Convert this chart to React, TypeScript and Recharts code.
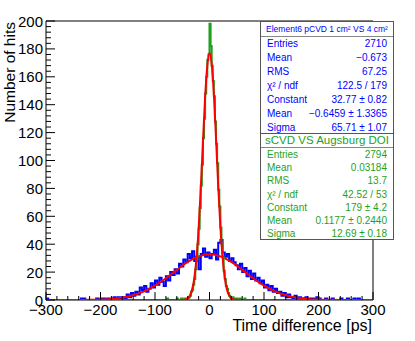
import React from "react";
import { ComposedChart, Line, XAxis, YAxis, ReferenceArea } from "recharts";

const W = 415;
const H = 341;
const FONT = '"Liberation Sans", Arial, Helvetica, sans-serif';
const BLUE = "#0000ff";
const GREEN = "#1f9f1f";
const RED = "#ff0000";

// pCVD histogram, 4 ps bins starting at -300 ps
const BLUE_START = -300;
const BLUE_BIN = 4;
const BLUE_COUNTS = [
  1, 0, 0, 0, 0, 0, 0, 0, 0, 0,
  0, 0, 0, 0, 0, 0, 1, 1, 0, 0,
  0, 0, 0, 1, 0, 1, 1, 0, 1, 0,
  1, 2, 1, 2, 1, 2, 1, 4, 2, 5,
  3, 6, 4, 9, 7, 10, 6, 8, 12, 9,
  14, 11, 16, 13, 10, 17, 14, 20, 18, 22,
  19, 26, 24, 29, 27, 33, 30, 35, 28, 31,
  22, 33, 37, 31, 34, 30, 33, 36, 29, 41,
  43, 34, 31, 33, 28, 30, 27, 25, 22, 26,
  20, 23, 17, 21, 15, 19, 14, 16, 12, 14,
  9, 11, 7, 10, 6, 8, 5, 6, 3, 5,
  2, 4, 2, 1, 3, 1, 2, 1, 1, 2,
  0, 1, 1, 0, 2, 1, 0, 0, 1, 0,
  0, 1, 0, 0, 0, 1, 0, 0, 1, 0,
  0, 1, 0, 1, 0, 0, 0, 0, 0, 0,
];

// sCVD histogram, 2 ps bins starting at -80 ps
const GREEN_START = -80;
const GREEN_BIN = 2;
const GREEN_COUNTS = [
  0, 1, 0, 0, 0, 0, 0, 0, 0, 0,
  1, 0, 0, 0, 1, 0, 0, 1, 0, 1,
  1, 2, 3, 6, 7, 11, 15, 22, 29, 40,
  51, 66, 82, 97, 116, 130, 148, 160, 172, 176,
  198, 182, 168, 157, 146, 128, 112, 98, 79, 67,
  52, 40, 31, 21, 15, 10, 8, 5, 3, 2,
  1, 2, 0, 1, 0, 1, 0, 0, 1, 0,
  0, 0, 1, 0, 0, 0, 0, 0, 0, 0,
];

// fitted curves
const BLUE_FIT_X = [-300, -280, -260, -240, -220, -200, -180, -160, -140, -120, -100, -80, -60, -40, -20, 0, 20, 40, 60, 80, 100, 120, 140, 160, 180, 200, 220, 240, 260, 280, 300];
const BLUE_FIT_Y = [0, 0, 0, 0, 0.1, 0.3, 0.8, 1.7, 3.4, 6.2, 10.3, 15.6, 21.6, 27.3, 31.3, 32.8, 31.3, 27.3, 21.6, 15.6, 10.3, 6.2, 3.4, 1.7, 0.8, 0.3, 0.1, 0, 0, 0, 0];

const GREEN_FIT_X = [-300, -60, -48, -44, -40, -36, -32, -28, -24, -20, -16, -12, -8, -4, 0, 4, 8, 12, 16, 20, 24, 28, 32, 36, 40, 44, 48, 60, 300];
const GREEN_FIT_Y = [0, 0, 0.1, 0.4, 1.2, 3.1, 7.3, 15.4, 29.4, 50.9, 79.9, 113.5, 145.9, 168, 177, 169, 147.6, 115.5, 81.8, 52.4, 30.5, 16, 7.6, 3.3, 1.3, 0.45, 0.1, 0, 0];

const X_MAJOR = [-300, -200, -100, 0, 100, 200, 300];
const X_MINOR_STEP = 20;
const Y_MAJOR = [0, 20, 40, 60, 80, 100, 120, 140, 160, 180, 200];
const Y_MINOR_STEP = 4;

const PCVD_TITLE = "Element6 pCVD 1 cm² VS 4 cm²";
const PCVD_STATS = [
  ["Entries", "2710"],
  ["Mean", "−0.673"],
  ["RMS", "67.25"],
  ["χ² / ndf", "122.5 / 179"],
  ["Constant", "32.77 ± 0.82"],
  ["Mean", "−0.6459 ± 1.3365"],
  ["Sigma", "65.71 ± 1.07"],
];
const SCVD_TITLE = "sCVD VS Augsburg DOI";
const SCVD_STATS = [
  ["Entries", "2794"],
  ["Mean", "0.03184"],
  ["RMS", "13.7"],
  ["χ² / ndf", "42.52 / 53"],
  ["Constant", "179 ± 4.2"],
  ["Mean", "0.1177 ± 0.2440"],
  ["Sigma", "12.69 ± 0.18"],
];

type Row = { x: number; blue?: number; green?: number; blueFit?: number; greenFit?: number };

function buildRows(): Row[] {
  const m = new Map<number, Row>();
  const put = (x: number, k: "blue" | "green" | "blueFit" | "greenFit", v: number) => {
    const r = m.get(x) ?? { x };
    r[k] = v;
    m.set(x, r);
  };
  BLUE_COUNTS.forEach((c, i) => put(BLUE_START + i * BLUE_BIN, "blue", c));
  put(BLUE_START + BLUE_COUNTS.length * BLUE_BIN, "blue", BLUE_COUNTS[BLUE_COUNTS.length - 1]);
  GREEN_COUNTS.forEach((c, i) => put(GREEN_START + i * GREEN_BIN, "green", c));
  put(GREEN_START + GREEN_COUNTS.length * GREEN_BIN, "green", GREEN_COUNTS[GREEN_COUNTS.length - 1]);
  BLUE_FIT_X.forEach((x, i) => put(x, "blueFit", BLUE_FIT_Y[i]));
  GREEN_FIT_X.forEach((x, i) => put(x, "greenFit", GREEN_FIT_Y[i]));
  return [...m.values()].sort((a, b) => a.x - b.x);
}

function allTicks(major: number[], step: number) {
  const out: number[] = [];
  for (let v = major[0]; v <= major[major.length - 1]; v += step) out.push(v);
  return out;
}

const fmt = (v: number) => (v < 0 ? `−${Math.abs(v)}` : `${v}`);

function XTick(props: any) {
  const { x, y, payload } = props;
  const major = X_MAJOR.includes(payload.value);
  return (
    <g>
      <line x1={x} x2={x} y1={y} y2={y - (major ? 8 : 4)} stroke="#000" />
      {major && (
        <text x={x} y={y + 15} textAnchor="middle" fontSize={15} fontFamily={FONT} fill="#000">
          {fmt(payload.value)}
        </text>
      )}
    </g>
  );
}

function YTick(props: any) {
  const { x, y, payload } = props;
  const major = Y_MAJOR.includes(payload.value);
  return (
    <g>
      <line x1={x} x2={x + (major ? 9 : 5)} y1={y} y2={y} stroke="#000" />
      {major && (
        <text x={x - 3} y={y + 5.5} textAnchor="end" fontSize={15} fontFamily={FONT} fill="#000">
          {payload.value}
        </text>
      )}
    </g>
  );
}

function StatsBox(props: {
  top: number; height: number; title: string; titleSize: number; titleH: number;
  rowH: number; rows: string[][]; color: string;
}) {
  const { top, height, title, titleSize, titleH, rowH, rows, color } = props;
  return (
    <div
      style={{
        position: "absolute", left: 260, top, width: 134, height, boxSizing: "border-box",
        border: "1px solid #555", background: "#fff", fontFamily: FONT, color,
      }}
    >
      <div
        style={{
          height: titleH, lineHeight: `${titleH}px`, fontSize: titleSize, textAlign: "center",
          borderBottom: "1px solid #888", whiteSpace: "nowrap",
        }}
      >
        {title}
      </div>
      {rows.map(([k, v], i) => (
        <div
          key={i}
          style={{
            height: rowH, lineHeight: `${rowH}px`, fontSize: 10, display: "flex",
            justifyContent: "space-between", padding: "0 6px", whiteSpace: "nowrap",
          }}
        >
          <span>{k}</span>
          <span>{v}</span>
        </div>
      ))}
    </div>
  );
}

export default function App() {
  const data = buildRows();
  return (
    <div style={{ position: "relative", width: W, height: H, background: "#fff" }}>
      <style>{`body{margin:0}`}</style>
      <ComposedChart width={W} height={H} data={data} margin={{ top: 21, right: 42, bottom: 0, left: 0 }}>
        <XAxis
          dataKey="x"
          type="number"
          domain={[-300, 300]}
          ticks={allTicks(X_MAJOR, X_MINOR_STEP)}
          interval={0}
          height={41}
          tickSize={0}
          tickMargin={0}
          axisLine={false}
          tickLine={false}
          tick={(p: any) => <XTick {...p} />}
          allowDataOverflow
        />
        <YAxis
          type="number"
          domain={[0, 200]}
          ticks={allTicks(Y_MAJOR, Y_MINOR_STEP)}
          interval={0}
          width={46}
          tickSize={0}
          tickMargin={0}
          axisLine={false}
          tickLine={false}
          tick={(p: any) => <YTick {...p} />}
          allowDataOverflow
        />
        <ReferenceArea x1={-300} x2={300} y1={0} y2={200} fill="none" stroke="#000" strokeWidth={1} />
        <Line dataKey="blue" type="stepAfter" stroke={BLUE} strokeWidth={2} dot={false} connectNulls isAnimationActive={false} />
        <Line dataKey="blueFit" type="monotone" stroke={RED} strokeWidth={2} dot={false} connectNulls isAnimationActive={false} />
        <Line dataKey="green" type="stepAfter" stroke={GREEN} strokeWidth={2} dot={false} connectNulls isAnimationActive={false} />
        <Line dataKey="greenFit" type="monotone" stroke={RED} strokeWidth={2} dot={false} connectNulls isAnimationActive={false} />
      </ComposedChart>
      <svg width={W} height={H} style={{ position: "absolute", left: 0, top: 0, pointerEvents: "none" }}>
        <text x={372} y={331} textAnchor="end" fontSize={16} fontFamily={FONT} fill="#000">
          Time difference [ps]
        </text>
        <text x={15} y={22} textAnchor="end" fontSize={15.5} fontFamily={FONT} fill="#000" transform="rotate(-90 15 22)">
          Number of hits
        </text>
      </svg>
      <StatsBox top={21} height={113} title={PCVD_TITLE} titleSize={8.5} titleH={14} rowH={14} rows={PCVD_STATS} color={BLUE} />
      <StatsBox top={133} height={107} title={SCVD_TITLE} titleSize={11.5} titleH={13} rowH={13.2} rows={SCVD_STATS} color={GREEN} />
    </div>
  );
}
